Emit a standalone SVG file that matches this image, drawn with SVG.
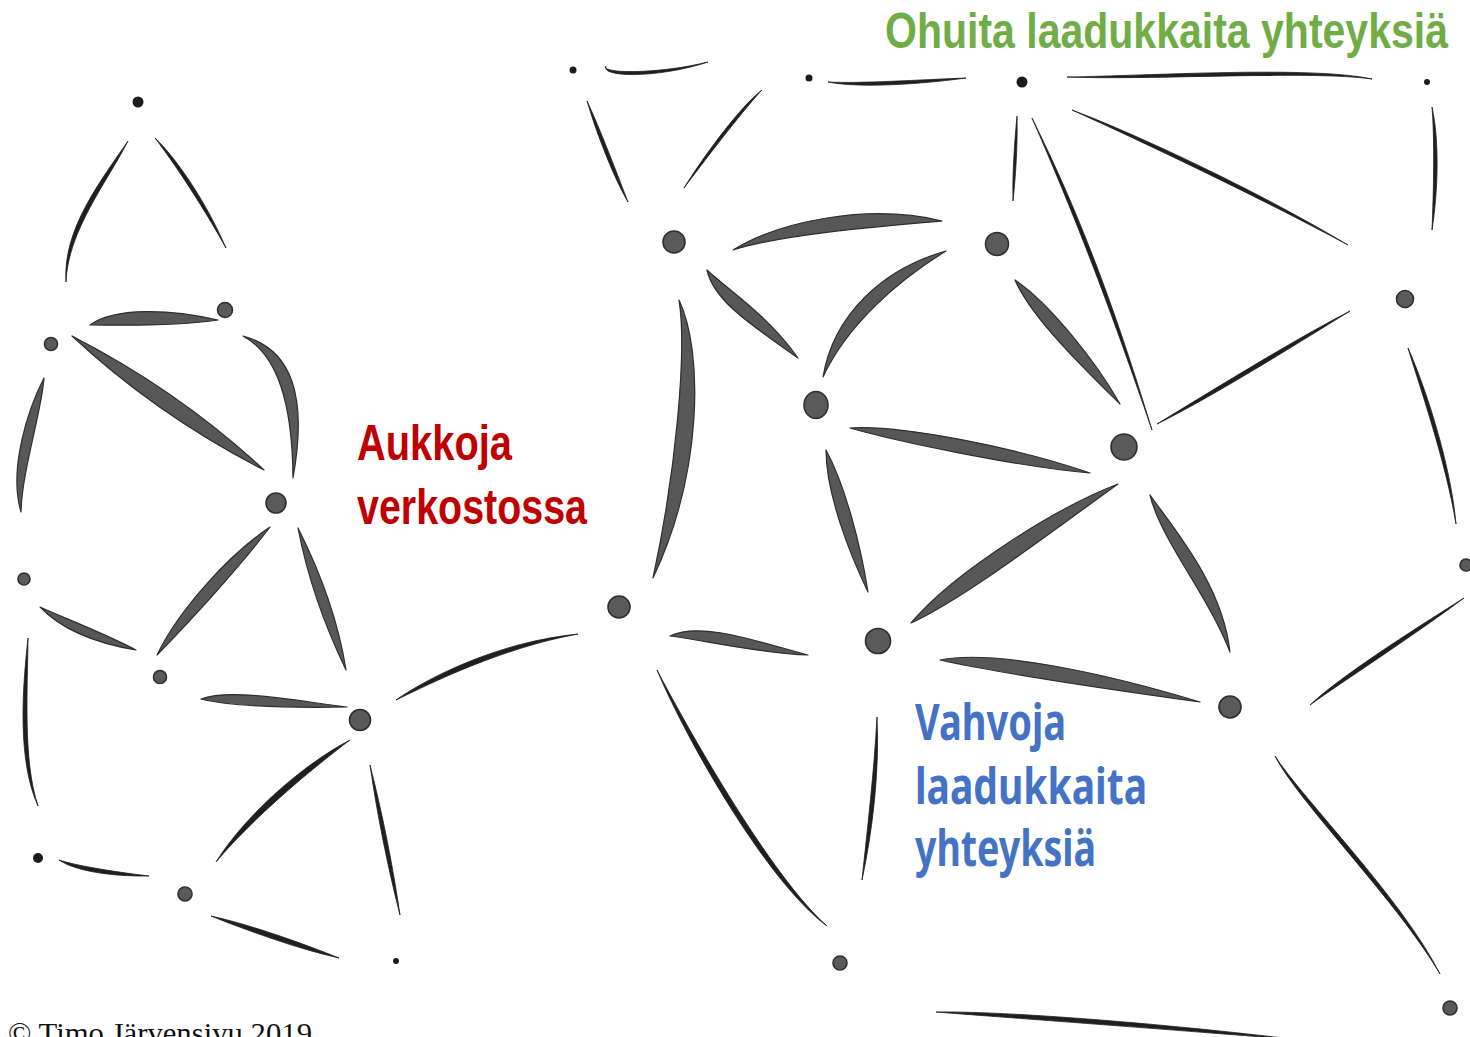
<svg xmlns="http://www.w3.org/2000/svg" width="1470" height="1037" viewBox="0 0 1470 1037">
<style>
.thick{fill:#575757;stroke:#2e2e2e;stroke-width:1.2;stroke-linejoin:round}
.thin{fill:#1f1f1f;stroke:#1f1f1f;stroke-width:0.8;stroke-linejoin:round}
.node{fill:#5a5a5a;stroke:#2f2f2f;stroke-width:1.6}
.dot{fill:#1c1c1c}
.lbl{font-family:"Liberation Sans Narrow","Liberation Sans",Arial,sans-serif;font-weight:bold;font-size:50px}
.blue{font-family:"Noto Sans","Open Sans","Liberation Sans",sans-serif;font-weight:bold;font-size:50px;fill:#4472C4}
</style>
<rect width="1470" height="1037" fill="#ffffff"/>
<g id="connectors">
<!-- left cluster -->
<path class="thin" d="M128,141 C102.3,178.8 62.3,228.8 66,282 C67.7,231.2 107.7,181.2 128,141Z"/>
<path class="thin" d="M155,138 C173,161.3 203,206.3 226,248 C207,203.7 177,158.7 155,138Z"/>
<path class="thick" d="M90,325 C115.35,325 170.35,327 218,320 C169.65,309 114.65,307 90,325Z"/>
<path class="thick" d="M72,336 C129.8,389.9 193.8,433.9 264,470 C206.2,416.1 142.2,372.1 72,336Z"/>
<path class="thick" d="M243,336 C277.4,354.7 292.4,402.7 293,478 C307.6,397.3 292.6,349.3 243,336Z"/>
<path class="thick" d="M44,378 C28.2,408.8 8.2,468.8 21,512 C21.8,471.2 41.8,411.2 44,378Z"/>
<path class="thick" d="M270,527 C228.9,554.6 178.9,609.6 157,655 C191.1,620.4 241.1,565.4 270,527Z"/>
<path class="thick" d="M298,528 C307.4,577.2 325.4,627.2 346,670 C338.6,622.8 320.6,572.8 298,528Z"/>
<path class="thick" d="M40,607 C62.5,630.5 97.5,643.5 136,650 C102.5,632.5 67.5,619.5 40,607Z"/>
<path class="thin" d="M28,638 C22.3,690.2 17.3,760.2 38,806 C22.7,759.8 27.7,689.8 28,638Z"/>
<path class="thick" d="M201,699 C229.6,706 289.8,708 347,707 C290.2,700 230.4,688 201,699Z"/>
<path class="thin" d="M396,700 C431.1,683.1 501.1,648.1 578,634 C498.9,641.9 428.9,676.9 396,700Z"/>
<path class="thin" d="M350,740 C307.3,762 247.3,812 216,862 C252.7,818 312.7,768 350,740Z"/>
<path class="thin" d="M370,765 C377.4,815.5 387.4,865.5 400,915 C392.6,864.5 382.6,814.5 370,765Z"/>
<path class="thin" d="M59,860 C74.5,870.6 109.5,876.6 149,876 C110.5,871.4 75.5,865.4 59,860Z"/>
<path class="thin" d="M211,916 C249,931.2 299,949.2 339,958 C301,942.8 251,924.8 211,916Z"/>
<!-- right cluster -->
<path class="thin" d="M606,66 C600.1,78 660.1,78 708,62 C659.9,74 599.9,74 606,66Z"/>
<path class="thin" d="M587,101 C595.8,130.9 612.8,175.9 628,202 C617.2,174.1 600.2,129.1 587,101Z"/>
<path class="thin" d="M684,188 C711.6,151.2 746.6,106.2 762,90 C743.4,103.8 708.4,148.8 684,188Z"/>
<path class="thin" d="M828,82 C860.1,88.3 920.1,84.3 966,78 C919.9,79.7 859.9,83.7 828,82Z"/>
<path class="thin" d="M1067,77 C1150,80.3 1310,70.3 1372,79 C1310,65.7 1150,75.7 1067,77Z"/>
<path class="thin" d="M1017,116 C1014.3,144.9 1012.3,174.9 1013,201 C1015.7,175.1 1017.7,145.1 1017,116Z"/>
<path class="thin" d="M1032,118 C1072.8,210.8 1107.8,300.8 1152,430 C1112.2,299.2 1077.2,209.2 1032,118Z"/>
<path class="thin" d="M1072,110 C1139,140.1 1259,197.1 1348,245 C1261,192.9 1141,135.9 1072,110Z"/>
<path class="thin" d="M1432,107 C1434.7,140 1433.7,190 1432,230 C1438.3,190 1439.3,140 1432,107Z"/>
<path class="thick" d="M733,250 C780.9,234.7 871.7,227 942,221 C868.3,203 779.1,221.3 733,250Z"/>
<path class="thick" d="M707,270 C713.8,301.5 753.8,326.5 798,358 C766.3,313.5 726.3,288.5 707,270Z"/>
<path class="thick" d="M946,251 C883.6,268.7 833.6,313.7 823,377 C846.4,326.3 896.4,281.3 946,251Z"/>
<path class="thick" d="M679,300 C686.9,349.2 676.6,468.7 653,578 C703.4,471.3 703.1,350.8 679,300Z"/>
<path class="thick" d="M1015,280 C1031.2,317.4 1084.8,369.4 1120,404 C1095.2,360.6 1048.8,302.6 1015,280Z"/>
<path class="thick" d="M850,428 C898.3,441.8 1018.3,466.8 1090,473 C1021.7,449.2 901.7,424.2 850,428Z"/>
<path class="thin" d="M1157,424 C1211.3,397.3 1291.3,347.3 1350,311 C1288.7,342.7 1208.7,392.7 1157,424Z"/>
<path class="thin" d="M1408,348 C1417.7,380.6 1445.7,460.6 1456,524 C1450.3,459.4 1422.3,379.4 1408,348Z"/>
<path class="thick" d="M826,450 C826,493 848.8,551.9 868,592 C861.2,548.2 846,487 826,450Z"/>
<path class="thick" d="M1118,484 C1055.3,508 952.2,573.4 911,623 C967.8,596.6 1064.7,522 1118,484Z"/>
<path class="thick" d="M1150,495 C1160.3,538.9 1207.3,593.9 1230,652 C1222.7,586.1 1175.7,531.1 1150,495Z"/>
<path class="thick" d="M670,636 C698.7,639.4 759.3,653.4 808,655 C760.7,642.7 701.3,620.6 670,636Z"/>
<path class="thick" d="M940,660 C988.3,670.7 1098.7,688 1200,702 C1101.3,672 991.7,649.3 940,660Z"/>
<path class="thin" d="M657,670 C687.2,741.8 767.2,881.8 827,926 C772.8,878.2 692.8,738.2 657,670Z"/>
<path class="thin" d="M877,717 C874.3,769.8 867.3,829.8 862,880 C872.7,830.2 879.7,770.2 877,717Z"/>
<path class="thin" d="M1275,756 C1297.9,801.6 1397.9,901.6 1440,974 C1402.1,898.4 1302.1,798.4 1275,756Z"/>
<path class="thin" d="M1310,705 C1341.5,682.2 1411.5,637.2 1464,598 C1408.5,632.8 1338.5,677.8 1310,705Z"/>
<path class="thin" d="M936,1012 C999.8,1017 1149.8,1028 1300,1040 C1150.2,1022 1000.2,1011 936,1012Z"/>
</g>
<g id="n1"><circle class="dot" cx="138" cy="102" r="5.5"/></g>
<g id="n2"><circle class="node" cx="51" cy="344" r="6.5"/></g>
<g id="n3"><circle class="node" cx="225" cy="310" r="7.5"/></g>
<g id="n4"><circle class="node" cx="276" cy="503" r="10"/></g>
<g id="n5"><circle class="node" cx="24" cy="579" r="6"/></g>
<g id="n6"><circle class="node" cx="160" cy="677" r="6.5"/></g>
<g id="n7"><circle class="node" cx="360" cy="720" r="10.5"/></g>
<g id="n8"><circle class="dot" cx="38" cy="858" r="5"/></g>
<g id="n9"><circle class="node" cx="185" cy="894" r="7"/></g>
<g id="n10"><circle class="dot" cx="396" cy="961" r="3"/></g>
<g id="n11"><circle class="dot" cx="573" cy="70" r="3.5"/></g>
<g id="n12"><circle class="dot" cx="809" cy="78" r="3.5"/></g>
<g id="n13"><circle class="dot" cx="1022" cy="82" r="5.5"/></g>
<g id="n14"><circle class="dot" cx="1427" cy="82" r="3"/></g>
<g id="n15"><circle class="node" cx="674" cy="242" r="11"/></g>
<g id="n16"><circle class="node" cx="997" cy="244" r="11.5"/></g>
<g id="n17"><circle class="node" cx="1405" cy="299" r="8.5"/></g>
<g id="n18"><ellipse class="node" cx="816" cy="405" rx="12" ry="13.5"/></g>
<g id="n19"><circle class="node" cx="1124" cy="447" r="13"/></g>
<g id="n20"><circle class="node" cx="1466" cy="565" r="6"/></g>
<g id="n21"><circle class="node" cx="619" cy="607" r="11"/></g>
<g id="n22"><circle class="node" cx="878" cy="641" r="12.5"/></g>
<g id="n23"><circle class="node" cx="1230" cy="707" r="11"/></g>
<g id="n24"><circle class="node" cx="840" cy="963" r="7"/></g>
<g id="n25"><circle class="node" cx="1450" cy="1008" r="7"/></g>
<g id="labels">
<text class="lbl" x="885" y="48" fill="#70AD47" textLength="563" lengthAdjust="spacingAndGlyphs">Ohuita laadukkaita yhteyksiä</text>
<text class="lbl" x="357" y="460" fill="#C00000" textLength="155" lengthAdjust="spacingAndGlyphs">Aukkoja</text>
<text class="lbl" x="357" y="524" fill="#C00000" textLength="230" lengthAdjust="spacingAndGlyphs">verkostossa</text>
<text class="blue" x="915" y="740" textLength="151" lengthAdjust="spacingAndGlyphs">Vahvoja</text>
<text class="blue" x="915" y="804" textLength="232" lengthAdjust="spacingAndGlyphs">laadukkaita</text>
<text class="blue" x="915" y="866" textLength="181" lengthAdjust="spacingAndGlyphs">yhteyksiä</text>
<text x="8" y="1043" font-family="'Liberation Serif','Times New Roman',serif" font-size="30" fill="#111" textLength="304" lengthAdjust="spacingAndGlyphs">© Timo Järvensivu 2019</text>
</g>
</svg>
